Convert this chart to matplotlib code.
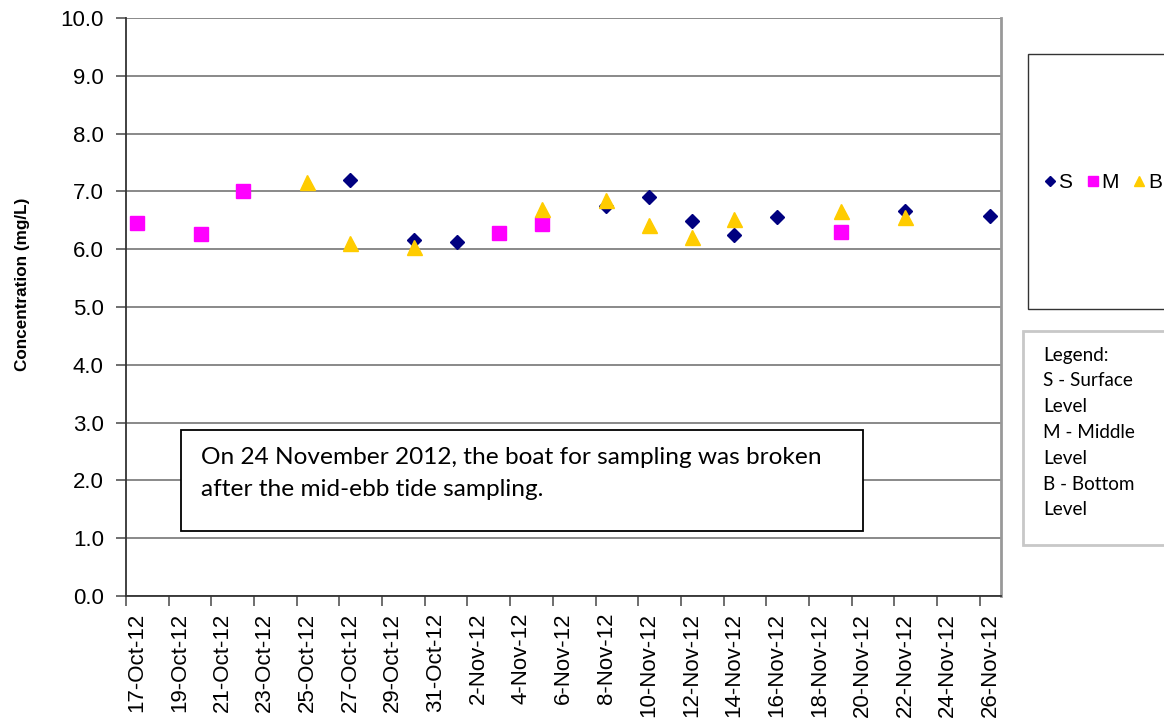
import matplotlib
matplotlib.use("Agg")
import matplotlib.pyplot as plt
import matplotlib.dates as mdates
from matplotlib.lines import Line2D
from matplotlib.patches import Rectangle
import numpy as np
import datetime as dt

# sampling dates (2012) and readings, mg/L
s_dates = ["2012-10-27", "2012-10-30", "2012-11-01", "2012-11-08", "2012-11-10",
           "2012-11-12", "2012-11-14", "2012-11-16", "2012-11-22", "2012-11-26"]
s_vals = [7.20, 6.16, 6.12, 6.75, 6.91, 6.48, 6.25, 6.56, 6.66, 6.57]

m_dates = ["2012-10-17", "2012-10-20", "2012-10-22", "2012-11-03", "2012-11-05",
           "2012-11-19"]
m_vals = [6.45, 6.27, 7.01, 6.28, 6.44, 6.30]

b_dates = ["2012-10-25", "2012-10-27", "2012-10-30", "2012-11-05", "2012-11-08",
           "2012-11-10", "2012-11-12", "2012-11-14", "2012-11-19", "2012-11-22"]
b_vals = [7.16, 6.10, 6.03, 6.70, 6.85, 6.42, 6.21, 6.52, 6.66, 6.56]

y_ticks = np.arange(0, 10.5, 1.0)
x_start, x_end = "2012-10-17", "2012-11-27"

note_lines = ["On 24 November 2012, the boat for sampling was broken",
              "after the mid-ebb tide sampling."]
legend_lines = ["Legend:", "S - Surface", "Level", "M - Middle", "Level",
                "B - Bottom", "Level"]

ARIAL = "Liberation Sans"
CALIBRI = "Lato"
W, H = 1164, 725


def day_center(dates):
    # excel date axis puts each point in the middle of its day
    return [dt.datetime.fromisoformat(d) + dt.timedelta(hours=12) for d in dates]


def fy(py):
    # pixel row from the top -> figure fraction
    return 1 - py / H


fig = plt.figure(figsize=(W / 100, H / 100), dpi=100)
ax = fig.add_axes([126 / W, fy(596), (1001 - 126) / W, (596 - 18) / H])

ax.plot(day_center(s_dates), s_vals, ls="none", marker="D", ms=7.6,
        color="#000080", mec="#000080", zorder=3)
ax.plot(day_center(m_dates), m_vals, ls="none", marker="s", ms=10.5,
        color="#FF00FF", mec="#FF00FF", zorder=4)
ax.plot(day_center(b_dates), b_vals, ls="none", marker="^", ms=10.8,
        color="#FFCC00", mec="#FFCC00", zorder=5)

ax.set_xlim(dt.datetime.fromisoformat(x_start), dt.datetime.fromisoformat(x_end))
ax.set_ylim(0, 10)
ax.set_yticks(y_ticks)
ax.set_yticklabels([f"{v:.1f}" for v in y_ticks], fontfamily=ARIAL, fontsize=16)

# major ticks on the day boundaries, labels centred in the day (minor ticks)
major = mdates.drange(dt.datetime(2012, 10, 17), dt.datetime(2012, 11, 28),
                      dt.timedelta(days=2))
ax.set_xticks(major)
ax.set_xticklabels([])
ax.set_xticks(major + 0.5, minor=True)
ax.set_xticklabels([f"{mdates.num2date(m).day}-{mdates.num2date(m).strftime('%b-%y')}"
                    for m in major], minor=True, rotation=90,
                   fontfamily=ARIAL, fontsize=16)
ax.tick_params(axis="x", which="minor", length=0, pad=12)
ax.tick_params(axis="x", which="major", length=7, width=1.2, color="#555555")
ax.tick_params(axis="y", length=7, width=1.2, color="#555555", pad=9)

ax.grid(axis="y", color="#808080", lw=1.3)
ax.set_axisbelow(True)
ax.spines["top"].set_visible(False)
ax.spines["right"].set_color("#999999")
ax.spines["right"].set_linewidth(2)
for side in ["left", "bottom"]:
    ax.spines[side].set_color("#333333")
    ax.spines[side].set_linewidth(1.3)

fig.text(23 / W, fy(284), "Concentration (mg/L)", rotation=90, ha="center",
         va="center", fontfamily=ARIAL, fontweight="bold", fontsize=12.3)

# note box inside the plot
fig.patches.append(Rectangle((181 / W, fy(531)), (863 - 181) / W, (531 - 430) / H,
                             transform=fig.transFigure, facecolor="white",
                             edgecolor="black", lw=1.3, zorder=6))
for i, line in enumerate(note_lines):
    fig.text(201 / W, fy(458 + 32 * i), line, ha="left", va="center",
             fontfamily=CALIBRI, fontsize=17.6, zorder=7)

# series legend box (runs off the right edge)
fig.patches.append(Rectangle((1028 / W, fy(309)), 200 / W, (309 - 54) / H,
                             transform=fig.transFigure, facecolor="white",
                             edgecolor="#333333", lw=1.0))
handles = [Line2D([], [], ls="none", marker="D", ms=5, color="#000080"),
           Line2D([], [], ls="none", marker="s", ms=7, color="#FF00FF"),
           Line2D([], [], ls="none", marker="^", ms=7, color="#FFCC00")]
fig.legend(handles, ["S", "M", "B"], ncol=3, loc="center left",
           bbox_to_anchor=(1034 / W, fy(183)), frameon=False,
           prop={"family": ARIAL, "size": 15}, handlelength=0.5,
           handletextpad=0.15, columnspacing=0.75, borderpad=0)

# level description box
fig.patches.append(Rectangle((1023 / W, fy(545)), 200 / W, (545 - 331) / H,
                             transform=fig.transFigure, facecolor="white",
                             edgecolor="#c8c8c8", lw=2.0))
for i, line in enumerate(legend_lines):
    fig.text(1043 / W, fy(355 + 25.8 * i), line, ha="left", va="center",
             fontfamily=CALIBRI, fontsize=13.6)

fig.savefig("out.png", dpi=100)
